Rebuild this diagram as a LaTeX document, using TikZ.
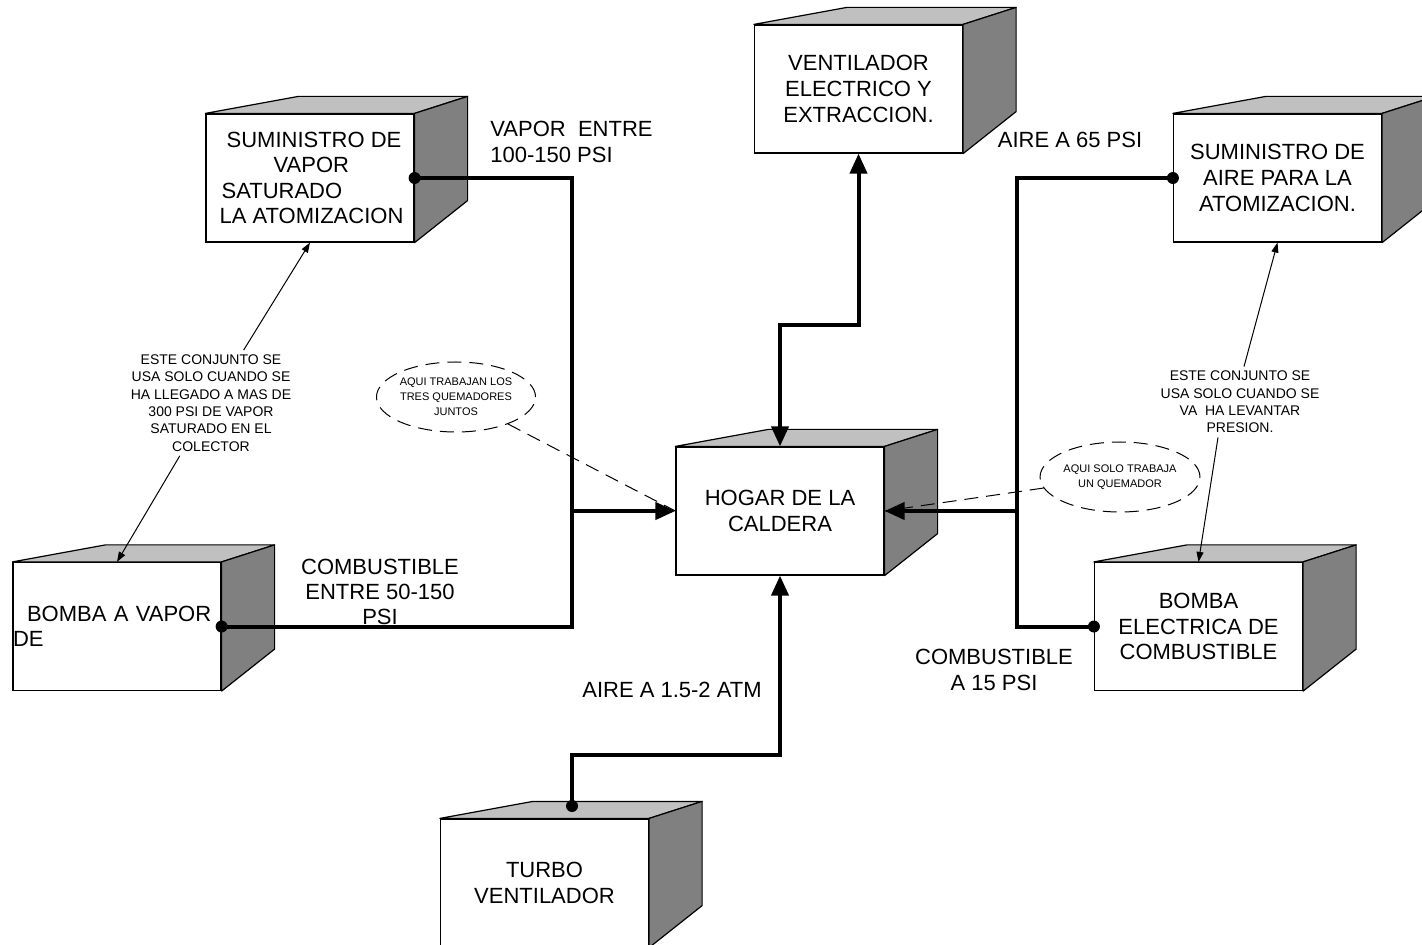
\documentclass[tikz,border=0pt]{standalone}
\usepackage{fontspec}
\setmainfont{Liberation Sans}
\usetikzlibrary{arrows.meta,shapes.geometric}

\definecolor{grisclaro}{HTML}{C0C0C0}
\definecolor{grisoscuro}{HTML}{808080}

\tikzset{
  caja/.style={draw, line width=0.6pt, fill=white, minimum width=104pt, minimum height=64pt,
    inner sep=0pt, align=center, font=\fontsize{11}{12.8}\selectfont},
  etiqueta/.style={inner sep=0pt, align=center, font=\fontsize{11}{12.6}\selectfont},
  nota/.style={inner sep=2pt, align=center, font=\fontsize{7}{8.7}\selectfont},
  globo/.style={ellipse, draw, dash pattern=on 7pt off 4pt, line width=0.5pt, minimum width=78pt,
    minimum height=35pt, inner sep=0pt, align=center, font=\fontsize{5.5}{7.4}\selectfont},
  tubo/.style={line width=2pt},
  flecha/.style={tubo, -{Triangle[length=10pt,width=8.5pt]}},
  flechas/.style={tubo, {Triangle[length=10pt,width=8.5pt]}-{Triangle[length=10pt,width=8.5pt]}},
  fina/.style={line width=0.5pt, -{Triangle[length=5pt,width=3.5pt]}},
  trazo/.style={line width=0.5pt, dash pattern=on 7pt off 4pt},
  punto/.style={circle, fill, inner sep=0pt, minimum size=6pt}
}

% top and side faces of a box
\newcommand{\caras}[1]{%
  \filldraw[fill=grisclaro, line width=0.6pt, line join=round] (#1.north west) -- ++(93,-17)
    -- ([shift={(53,-17)}]#1.north east) -- (#1.north east) -- cycle;
  \filldraw[fill=grisoscuro, line width=0.6pt, line join=round] (#1.north east) -- ++(53,-17)
    -- ([shift={(53,-42)}]#1.south east) -- (#1.south east) -- cycle;
}

\begin{document}
\begin{tikzpicture}[x=0.5pt,y=-0.5pt]
  \useasboundingbox (0,0) rectangle (1422,945);

  % Boxes
  \node[caja, align=left] (vapor) at (310,178) {\hspace*{5pt}SUMINISTRO DE\\\hspace*{28.5pt}VAPOR\\\hspace*{2.5pt}SATURADO\\\hspace*{1.5pt}LA ATOMIZACION};
  \caras{vapor}
  \node[caja] (vent) at (858.5,89) {VENTILADOR\\ELECTRICO Y\\EXTRACCION.};
  \caras{vent}
  \node[caja] (aire) at (1277.5,178) {SUMINISTRO DE\\AIRE PARA LA\\ATOMIZACION.};
  \caras{aire}
  \node[caja] (hogar) at (780,511) {HOGAR DE LA\\CALDERA};
  \caras{hogar}
  \node[caja, text width=104pt, align=left] (bvapor) at (117,626.5) {\hspace*{7pt}BOMBA A VAPOR\\DE};
  \caras{bvapor}
  \node[caja] (belec) at (1198.5,626.5) {BOMBA\\ELECTRICA DE\\COMBUSTIBLE};
  \caras{belec}
  \node[caja] (turbo) at (544.5,883) {TURBO\\VENTILADOR};
  \caras{turbo}

  % Left pipes
  \coordinate (colI) at (572,511);
  \draw[tubo] (vapor.east) -| (colI) |- (bvapor.east);
  \draw[flecha] (colI) -- (hogar.west);
  \node[punto] at (vapor.east) {};
  \node[punto] at (bvapor.east) {};

  % Right pipes
  \coordinate (colD) at (1017,511);
  \draw[tubo] (aire.west) -| (colD) |- (belec.west);
  \draw[flecha] (colD) -- (hogar.east);
  \node[punto] at (aire.west) {};
  \node[punto] at (belec.west) {};

  % Fan
  \coordinate (codoV) at (858.5,325);
  \draw[flechas] (hogar.north) |- (codoV) -- (vent.south);

  % Turbo
  \coordinate (tdot) at (572,806);
  \coordinate (codoT) at (780,755);
  \draw[flecha] (tdot) |- (codoT) -- (hogar.south);
  \node[punto] at (tdot) {};

  % Notes
  \node[nota] (notaI) at (211,403) {ESTE CONJUNTO SE\\USA SOLO CUANDO SE\\HA LLEGADO A MAS DE\\300 PSI DE VAPOR\\SATURADO EN EL\\COLECTOR};
  \draw[fina] (notaI) -- (vapor.south);
  \draw[fina] (notaI) -- (bvapor.north);
  \node[nota] (notaD) at (1240,402) {ESTE CONJUNTO SE\\USA SOLO CUANDO SE\\VA\ \ HA LEVANTAR\\PRESION.};
  \draw[fina] ([xshift=2pt]notaD.north) -- (aire.south);
  \draw[fina] ([xshift=-11pt]notaD.south) -- (belec.north);

  % Callouts
  \node[globo] (elipI) at (456,397) {AQUI TRABAJAN LOS\\TRES QUEMADORES\\JUNTOS};
  \draw[trazo] (elipI) -- (hogar.west);
  \node[globo] (elipD) at (1120,477) {AQUI SOLO TRABAJA\\UN QUEMADOR};
  \draw[trazo] (elipD) -- (hogar.east);

  % Labels
  \node[etiqueta, align=left, anchor=west] (lblVapor) at (490,142) {VAPOR\ \ ENTRE\\100-150 PSI};
  \node[etiqueta] (lblAire) at (1070,140) {AIRE A 65 PSI};
  \node[etiqueta] (lblComb) at (380,592) {COMBUSTIBLE\\ENTRE 50-150\\PSI};
  \node[etiqueta] (lblAtm) at (672,690) {AIRE A 1.5-2 ATM};
  \node[etiqueta] (lblComb15) at (994,670) {COMBUSTIBLE\\A 15 PSI};
\end{tikzpicture}
\end{document}
